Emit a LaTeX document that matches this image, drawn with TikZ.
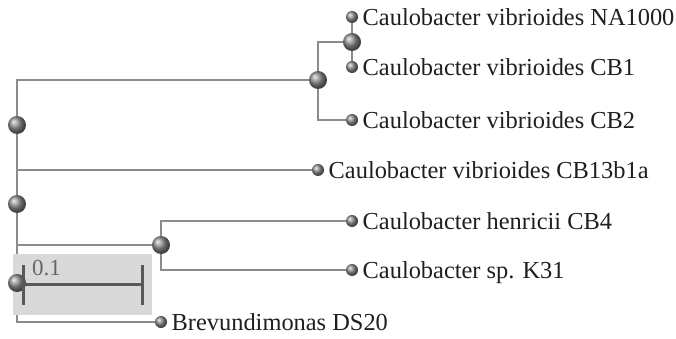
\documentclass[tikz,border=0pt]{standalone}
\usepackage{fontspec}
\setmainfont{Liberation Serif}
\begin{document}
\begin{tikzpicture}[x=1pt,y=-1pt,
  edge/.style={draw=black!45, line width=1.6pt},
  bigball/.style={circle, inner sep=0pt, minimum size=18pt, ball color=black!45},
  smallball/.style={circle, inner sep=0pt, minimum size=12pt, ball color=black!45},
  lab/.style={anchor=base west, inner sep=0pt, font=\fontsize{24.4}{29}\selectfont, text=black!88},
  scalebar/.style={draw=black!65, line width=3pt},
]
\useasboundingbox (0,0) rectangle (676,339);
% junction and leaf positions
\coordinate (pr1) at (17,125);
\coordinate (pr2) at (17,204);
\coordinate (pr3) at (17,283);
\coordinate (pA) at (318,80);
\coordinate (pB) at (352,42);
\coordinate (pC) at (161,245);
\coordinate (pl1) at (352,17);
\coordinate (pl2) at (352,67);
\coordinate (pl3) at (352,120);
\coordinate (pl4) at (318,170);
\coordinate (pl5) at (352,221);
\coordinate (pl6) at (352,270);
\coordinate (pl7) at (161,322);
% edges
\draw[edge] (pA) -| (pr1) |- (pl4);
\draw[edge] (pr1) -- (pr2) -- (pr3);
\draw[edge] (pC) -| (pr3) |- (pl7);
\draw[edge] (pB) -| (pA) |- (pl3);
\draw[edge] (pl1) -- (pB) -- (pl2);
\draw[edge] (pl5) -| (pC) |- (pl6);
% scale box
\node[fill=black!15, inner sep=0pt, minimum width=139pt, minimum height=61pt, anchor=north west] (sbox) at (13,254) {};
% balls
\node[bigball] (r1) at (pr1) {};
\node[bigball] (r2) at (pr2) {};
\node[bigball] (r3) at (pr3) {};
\node[bigball] (A) at (pA) {};
\node[bigball] (B) at (pB) {};
\node[bigball] (C) at (pC) {};
\node[smallball] (l1) at (pl1) {};
\node[smallball] (l2) at (pl2) {};
\node[smallball] (l3) at (pl3) {};
\node[smallball] (l4) at (pl4) {};
\node[smallball] (l5) at (pl5) {};
\node[smallball] (l6) at (pl6) {};
\node[smallball] (l7) at (pl7) {};
% labels
\node[lab] (t1) at ([xshift=10.5pt,yshift=-8.5pt]l1.center) {Caulobacter vibrioides NA1000};
\node[lab] (t2) at ([xshift=10.5pt,yshift=-8.5pt]l2.center) {Caulobacter vibrioides CB1};
\node[lab] (t3) at ([xshift=10.5pt,yshift=-8.5pt]l3.center) {Caulobacter vibrioides CB2};
\node[lab] (t4) at ([xshift=10.5pt,yshift=-8.5pt]l4.center) {Caulobacter vibrioides CB13b1a};
\node[lab] (t5) at ([xshift=10.5pt,yshift=-8.5pt]l5.center) {Caulobacter henricii CB4};
\node[lab] (t6) at ([xshift=10.5pt,yshift=-8.5pt]l6.center) {Caulobacter sp. K31};
\node[lab] (t7) at ([xshift=10.5pt,yshift=-8.5pt]l7.center) {Brevundimonas DS20};
% scale bar
\coordinate (s1) at (23,284);
\coordinate (s2) at (142,284);
\draw[scalebar] (s1) -- (s2);
\draw[scalebar] ([yshift=19pt]s1) -- ([yshift=-21pt]s1);
\draw[scalebar] ([yshift=19pt]s2) -- ([yshift=-21pt]s2);
\node[anchor=base west, inner sep=0pt, font=\fontsize{23}{27}\selectfont, text=black!60] (slab) at (32,275) {0.1};
\end{tikzpicture}
\end{document}
